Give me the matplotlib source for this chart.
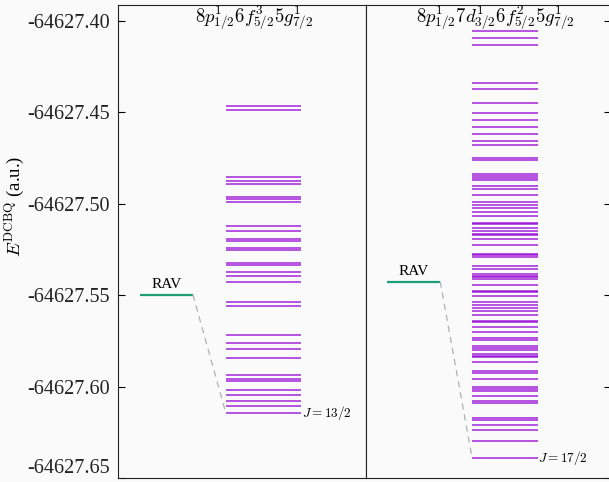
import matplotlib
matplotlib.use("Agg")
import matplotlib.pyplot as plt
import numpy as np

plt.rcParams['font.family'] = ['Liberation Serif', 'DejaVu Serif']
plt.rcParams['mathtext.fontset'] = 'cm'

E0 = -64627.0
config_labels = [r"$8p^1_{1/2}6f^3_{5/2}5g^1_{7/2}$",
                 r"$8p^1_{1/2}7d^1_{3/2}6f^2_{5/2}5g^1_{7/2}$"]
j_labels = [r"$J = 13/2$", r"$J = 17/2$"]
rav_values = [-0.5497, -0.5425]

levels_left = [-0.4462, -0.4486, -0.4855, -0.4873, -0.4892, -0.4961, -0.4976, -0.4990,
               -0.5120, -0.5146, -0.5195, -0.5205, -0.5241, -0.5250, -0.5325, -0.5334,
               -0.5374, -0.5393, -0.5427, -0.5538, -0.5557, -0.5718, -0.5760, -0.5794,
               -0.5841, -0.5937, -0.5959, -0.5968, -0.6016, -0.6045, -0.6081, -0.6105,
               -0.6145]

levels_right = [-0.4053, -0.4092, -0.4132, -0.4338, -0.4374, -0.4448, -0.4503, -0.4543,
                -0.4579, -0.4616, -0.4656, -0.4678, -0.4751, -0.4762, -0.4835, -0.4846,
                -0.4857, -0.4868, -0.4905, -0.4919, -0.4954, -0.4991, -0.5009, -0.5024,
                -0.5046, -0.5065, -0.5104, -0.5109, -0.5133, -0.5150, -0.5164, -0.5173,
                -0.5195, -0.5224, -0.5274, -0.5281, -0.5292, -0.5339, -0.5358, -0.5383,
                -0.5393, -0.5402, -0.5411, -0.5442, -0.5475, -0.5484, -0.5506, -0.5539,
                -0.5552, -0.5571, -0.5584, -0.5606, -0.5639, -0.5648, -0.5676, -0.5703,
                -0.5736, -0.5745, -0.5780, -0.5789, -0.5800, -0.5822, -0.5831, -0.5840,
                -0.5868, -0.5917, -0.5928, -0.5959, -0.6001, -0.6012, -0.6023, -0.6050,
                -0.6078, -0.6087, -0.6173, -0.6180, -0.6209, -0.6238, -0.6297, -0.6389]

yticks = [-64627.40, -64627.45, -64627.50, -64627.55, -64627.60, -64627.65]
ytick_labels = ["-64627.40", "-64627.45", "-64627.50", "-64627.55", "-64627.60", "-64627.65"]

W, H = 609, 482
fig = plt.figure(figsize=(W / 100, H / 100), dpi=100)
bg = '#fafafa'
fig.patch.set_facecolor(bg)

top_px, bot_px = 5, 478
axL = fig.add_axes([118 / W, 1 - bot_px / H, (366 - 118) / W, (bot_px - top_px) / H])
axR = fig.add_axes([366 / W, 1 - bot_px / H, (611 - 366) / W, (bot_px - top_px) / H], sharey=axL)

violet = '#9400D3'
green = '#1b9e77'
panels = [
    (axL, levels_left, rav_values[0], (0.435, 0.738), (0.089, 0.302), config_labels[0], j_labels[0], 0.548),
    (axR, levels_right, rav_values[1], (0.433, 0.700), (0.086, 0.303), config_labels[1], j_labels[1], 0.527),
]
for ax, lev, rav, (lx0, lx1), (rx0, rx1), title, jl, tx in panels:
    ax.set_facecolor(bg)
    vals = E0 + np.array(lev)
    for v in vals:
        ax.plot([lx0, lx1], [v, v], color=violet, alpha=0.72, lw=1.3, solid_capstyle='butt')
    ax.plot([rx0, rx1], [E0 + rav, E0 + rav], color=green, lw=1.6, solid_capstyle='butt')
    ax.text((rx0 + rx1) / 2, E0 + rav + 0.0022, "RAV", ha='center', va='bottom', fontsize=11)
    vmin = vals.min()
    ax.plot([rx1, lx0], [E0 + rav, vmin], color='#b0b0b0', lw=0.9, ls=(0, (5, 4)))
    ax.text(lx1 + 0.004, vmin, jl, ha='left', va='center', fontsize=9.5)
    ax.text(tx, E0 - 0.3981, title, ha='center', va='center', fontsize=13.5)
    ax.set_xlim(0, 1)
    ax.set_xticks([])
    for s in ax.spines.values():
        s.set_linewidth(0.8)
        s.set_color('#222222')

axL.set_ylim(-64627.65, -64627.3912)
axL.set_yticks(yticks)
axL.set_yticklabels(ytick_labels, fontsize=14.5, color='#222222')
axL.tick_params(axis='y', direction='in', length=5, width=0.8, pad=6)
axR.tick_params(axis='y', direction='in', length=5, width=0.8, left=False, right=True,
                labelleft=False, labelright=False)
axL.get_yticklabels()[-1].set_verticalalignment('bottom')
axL.set_ylabel(r"$E^{\rm DCBQ}$ (a.u.)", fontsize=13.5)
axL.yaxis.set_label_coords(-0.365, 0.575)

fig.savefig("out.png", dpi=100, facecolor=bg)
